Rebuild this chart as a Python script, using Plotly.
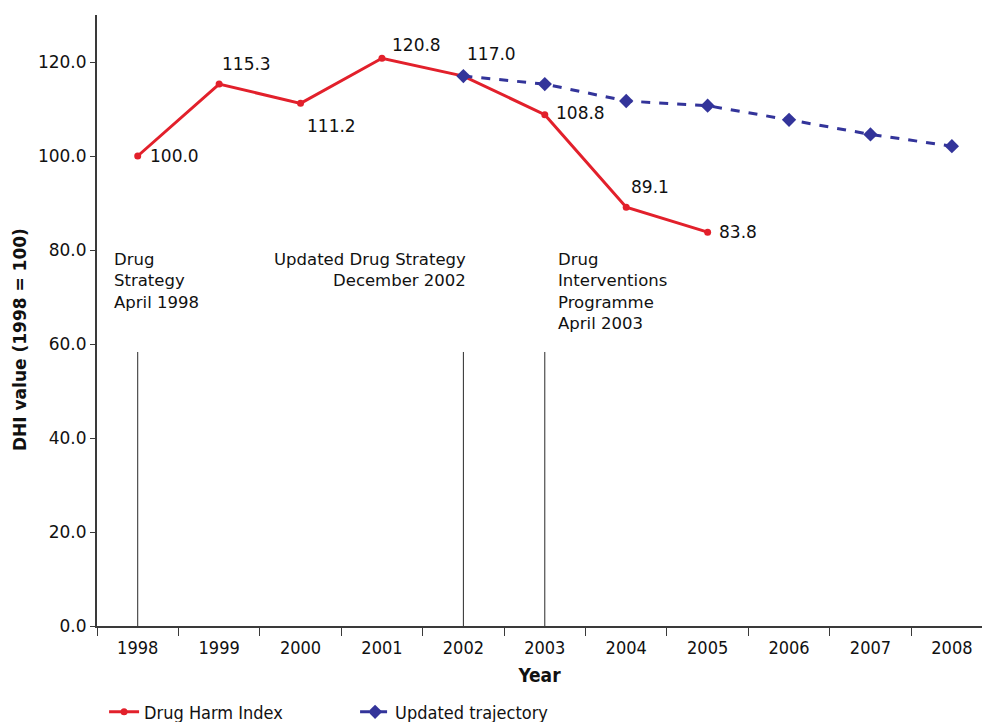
import plotly.graph_objects as go

# Data
years = ["1998", "1999", "2000", "2001", "2002", "2003", "2004", "2005", "2006", "2007", "2008"]
dhi_years = ["1998", "1999", "2000", "2001", "2002", "2003", "2004", "2005"]
dhi_values = [100.0, 115.3, 111.2, 120.8, 117.0, 108.8, 89.1, 83.8]
traj_years = ["2002", "2003", "2004", "2005", "2006", "2007", "2008"]
traj_values = [117.0, 115.3, 111.7, 110.7, 107.7, 104.6, 102.1]

# Policy events
event_years = ["1998", "2002", "2003"]
event_labels = ["Drug<br>Strategy<br>April 1998",
                "Updated Drug Strategy<br>December 2002",
                "Drug<br>Interventions<br>Programme<br>April 2003"]
event_line_top = 58.3

# Label offsets (px) for the data values
label_shift = [(10, 0), (1, 20), (4, -23), (8, 13), (2, 22), (9, 2), (3, 20), (9, 0)]

RED = "#e2202b"
BLUE = "#33349a"
AXIS = "#3a3a3a"
NUM_FONT = "DejaVu Sans"
NARROW_FONT = "DejaVu Sans Condensed"


def cat_index(yr):
    # category axes position annotations/shapes by serial number
    return years.index(yr)


fig = go.Figure()

fig.add_trace(go.Scatter(
    x=dhi_years, y=dhi_values, name="Drug Harm Index",
    mode="lines+markers",
    line=dict(color=RED, width=3),
    marker=dict(symbol="circle", size=7, color=RED),
))
fig.add_trace(go.Scatter(
    x=traj_years, y=traj_values, name="Updated trajectory",
    mode="lines+markers",
    line=dict(color=BLUE, width=3, dash="dash"),
    marker=dict(symbol="diamond", size=11, color=BLUE),
))

# Event marker lines
for ey in event_years:
    xi = cat_index(ey)
    fig.add_shape(type="line", xref="x", yref="y", x0=xi, x1=xi, y0=0, y1=event_line_top,
                  line=dict(color="#2a2a2a", width=1))

# Value labels
for yr, v, (dx, dy) in zip(dhi_years, dhi_values, label_shift):
    fig.add_annotation(x=cat_index(yr), y=v, text=f"{v:.1f}", showarrow=False,
                       xanchor="left", yanchor="middle", xshift=dx, yshift=dy,
                       font=dict(family=NUM_FONT, size=17, color="#111111"))

# Event labels
ev_font = dict(family=NUM_FONT, size=16.5, color="#111111")
fig.add_annotation(x=cat_index(event_years[0]), y=80.5, text=event_labels[0], showarrow=False,
                   xanchor="left", yanchor="top", align="left", xshift=-26, font=ev_font)
fig.add_annotation(x=cat_index(event_years[1]), y=80.5, text=event_labels[1], showarrow=False,
                   xanchor="right", yanchor="top", align="right", xshift=5, font=ev_font)
fig.add_annotation(x=cat_index(event_years[2]), y=80.5, text=event_labels[2], showarrow=False,
                   xanchor="left", yanchor="top", align="left", xshift=11, font=ev_font)

# Y axis title, rotated
fig.add_annotation(xref="paper", yref="paper", x=-0.087, y=0.468,
                   text="<b>DHI value (1998 = 100)</b>", textangle=-90, showarrow=False,
                   xanchor="center", yanchor="middle",
                   font=dict(family=NUM_FONT, size=17, color="#111111"))

fig.update_layout(
    width=982, height=722,
    margin=dict(l=97, r=0, t=15, b=96, autoexpand=False),
    paper_bgcolor="white", plot_bgcolor="white",
    showlegend=True,
    legend=dict(orientation="h", x=0.008, xanchor="left", y=-0.141, yanchor="middle",
                font=dict(family=NARROW_FONT, size=18, color="#111111"),
                entrywidth=206, entrywidthmode="pixels",
                bgcolor="rgba(0,0,0,0)"),
    xaxis=dict(
        type="category", categoryorder="array", categoryarray=years,
        range=[-0.5, 10.37],
        showline=True, linecolor=AXIS, linewidth=2,
        ticks="outside", tickson="boundaries", ticklen=8, tickcolor=AXIS, tickwidth=1,
        ticklabelstandoff=4,
        tickfont=dict(family=NARROW_FONT, size=18, color="#111111"),
        showgrid=False, zeroline=False,
        title=dict(text="<b>Year</b>", standoff=12,
                   font=dict(family=NARROW_FONT, size=19, color="#111111")),
    ),
    yaxis=dict(
        range=[0, 130], dtick=20, tickformat=".1f",
        showline=True, linecolor=AXIS, linewidth=2,
        ticks="outside", ticklen=5, tickcolor=AXIS, tickwidth=1,
        tickfont=dict(family=NUM_FONT, size=17, color="#111111"),
        showgrid=False, zeroline=False,
    ),
)

fig.write_html("out.html")
